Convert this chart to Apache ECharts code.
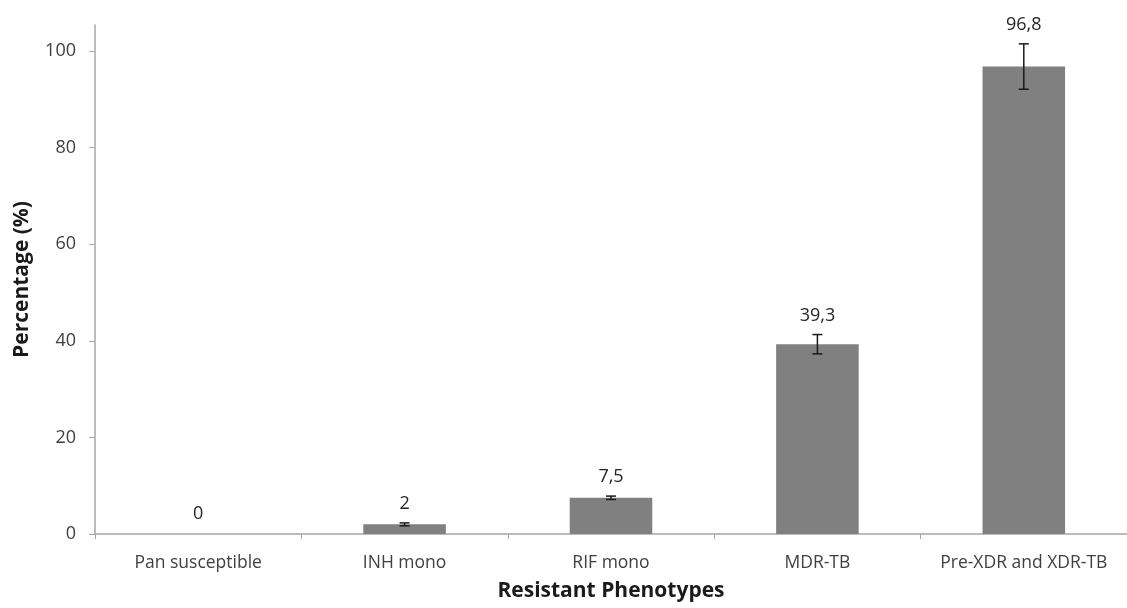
<!DOCTYPE html>
<html>
<head>
<meta charset="utf-8">
<script src="https://cdn.jsdelivr.net/npm/echarts@6/dist/echarts.min.js"></script>
<style>
html,body{margin:0;padding:0;background:#fff;}
#chart{width:1127px;height:608px;}
</style>
</head>
<body>
<div id="chart"></div>
<script>
const categories = ['Pan susceptible', 'INH mono', 'RIF mono', 'MDR-TB', 'Pre-XDR and XDR-TB'];
const values = [0, 2, 7.5, 39.3, 96.8];
const errors = [0, 0.3, 0.35, 2.0, 4.7];
const yTicks = [0, 20, 40, 60, 80, 100];

const FONT = '"Open Sans", "Noto Sans", sans-serif';
const TEXT = '#404040';
const AXIS = '#a6a6a6';

const chart = echarts.init(document.getElementById('chart'));
chart.setOption({
  animation: false,
  backgroundColor: '#fff',
  grid: { left: 95, right: -3, top: 25, bottom: 74, containLabel: false },
  xAxis: {
    type: 'category',
    data: categories,
    boundaryGap: true,
    name: 'Resistant Phenotypes',
    nameLocation: 'middle',
    nameGap: 47,
    nameTextStyle: { fontFamily: FONT, fontSize: 21, fontWeight: 'bold', color: '#1a1a1a' },
    axisLine: { show: true, lineStyle: { color: AXIS, width: 1.5 } },
    axisTick: { show: true, interval: 0, length: 5, lineStyle: { color: AXIS } },
    axisLabel: { interval: 0, fontFamily: FONT, fontSize: 17.5, color: TEXT, margin: 20 }
  },
  yAxis: {
    type: 'value',
    min: 0,
    max: 105.4,
    name: 'Percentage (%)',
    nameLocation: 'middle',
    nameGap: 62,
    nameTextStyle: { fontFamily: FONT, fontSize: 21, fontWeight: 'bold', color: '#1a1a1a' },
    axisLine: { show: true, lineStyle: { color: AXIS, width: 1.5 } },
    axisTick: { show: true, length: 6, lineStyle: { color: AXIS }, customValues: yTicks },
    axisLabel: { fontFamily: FONT, fontSize: 18, color: TEXT, margin: 19, customValues: yTicks },
    splitLine: { show: false }
  },
  series: [
    {
      type: 'bar',
      data: values,
      barWidth: '40%',
      itemStyle: { color: '#808080' },
      z: 2
    },
    {
      type: 'custom',
      z: 5,
      data: values.map((v, i) => [i, v, errors[i]]),
      renderItem: function (params, api) {
        const i = api.value(0), v = api.value(1), e = api.value(2);
        const top = api.coord([i, v + e]);
        const bot = api.coord([i, v - e]);
        const barTop = api.coord([i, v]);
        const x = top[0];
        const children = [];
        if (e > 0) {
          const cw = 5;
          children.push(
            { type: 'line', shape: { x1: x, y1: top[1], x2: x, y2: bot[1] }, style: { stroke: '#1a1a1a', lineWidth: 1.5 } },
            { type: 'line', shape: { x1: x - cw, y1: top[1], x2: x + cw, y2: top[1] }, style: { stroke: '#1a1a1a', lineWidth: 1.5 } },
            { type: 'line', shape: { x1: x - cw, y1: bot[1], x2: x + cw, y2: bot[1] }, style: { stroke: '#1a1a1a', lineWidth: 1.5 } }
          );
        }
        const ly = Math.min(barTop[1] - 20, top[1] - 19);
        children.push({
          type: 'text',
          style: {
            x: x, y: ly,
            text: String(v).replace('.', ','),
            textAlign: 'center', textVerticalAlign: 'middle',
            fontFamily: FONT, fontSize: 18, fill: '#262626'
          }
        });
        return { type: 'group', children: children };
      }
    }
  ]
});
</script>
</body>
</html>
